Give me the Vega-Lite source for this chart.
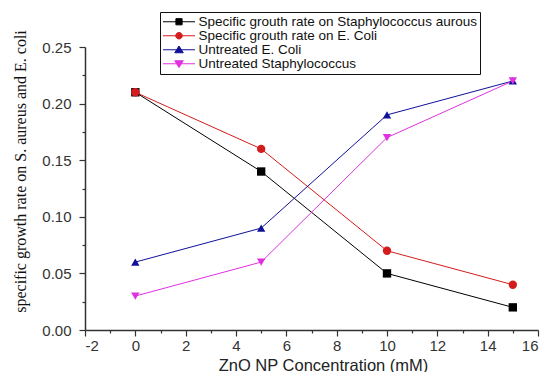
{
  "$schema": "https://vega.github.io/schema/vega-lite/v6.json",
  "width": 453,
  "height": 283,
  "autosize": {"type": "none"},
  "padding": {"left": 85, "top": 47, "right": 20, "bottom": 42},
  "background": "white",
  "config": {
    "view": {"stroke": null},
    "font": "Liberation Sans",
    "axis": {
      "domainColor": "#333333",
      "domainWidth": 1.5,
      "tickColor": "#333333",
      "tickWidth": 1.2,
      "grid": false,
      "labelFont": "Liberation Sans",
      "labelFontSize": 15,
      "labelColor": "#333333"
    }
  },
  "data": {
    "values": [
      {"series": "Specific grouth rate on Staphylococcus aurous", "conc": 0, "rate": 0.21},
      {"series": "Specific grouth rate on Staphylococcus aurous", "conc": 5, "rate": 0.14},
      {"series": "Specific grouth rate on Staphylococcus aurous", "conc": 10, "rate": 0.05},
      {"series": "Specific grouth rate on Staphylococcus aurous", "conc": 15, "rate": 0.02},
      {"series": "Specific grouth rate on E. Coli", "conc": 0, "rate": 0.21},
      {"series": "Specific grouth rate on E. Coli", "conc": 5, "rate": 0.16},
      {"series": "Specific grouth rate on E. Coli", "conc": 10, "rate": 0.07},
      {"series": "Specific grouth rate on E. Coli", "conc": 15, "rate": 0.04},
      {"series": "Untreated E. Coli", "conc": 0, "rate": 0.06},
      {"series": "Untreated E. Coli", "conc": 5, "rate": 0.09},
      {"series": "Untreated E. Coli", "conc": 10, "rate": 0.19},
      {"series": "Untreated E. Coli", "conc": 15, "rate": 0.22},
      {"series": "Untreated Staphylococcus", "conc": 0, "rate": 0.03},
      {"series": "Untreated Staphylococcus", "conc": 5, "rate": 0.06},
      {"series": "Untreated Staphylococcus", "conc": 10, "rate": 0.17},
      {"series": "Untreated Staphylococcus", "conc": 15, "rate": 0.22}
    ]
  },
  "layer": [
    {
      "mark": {"type": "line", "strokeWidth": 1},
      "encoding": {
        "x": {
          "field": "conc", "type": "quantitative",
          "scale": {"domain": [-2, 16], "nice": false, "zero": false},
          "axis": {
            "values": [-2, 0, 2, 4, 6, 8, 10, 12, 14, 16],
            "labelExpr": "'' + datum.value",
            "tickSize": 6, "labelPadding": 2,
            "title": "ZnO NP Concentration (mM)",
            "titleFont": "Liberation Sans", "titleFontSize": 16.5, "titleFontWeight": "normal",
            "titleColor": "#222222", "titlePadding": 4, "titleX": 238
          }
        },
        "y": {
          "field": "rate", "type": "quantitative",
          "scale": {"domain": [0, 0.25], "nice": false},
          "axis": {
            "values": [0, 0.05, 0.1, 0.15, 0.2, 0.25],
            "format": ".2f",
            "tickSize": 6, "labelPadding": 8,
            "title": "specific growth rate on S. aureus and E. coli",
            "titleFont": "Liberation Serif", "titleFontSize": 16, "titleFontWeight": "normal",
            "titleColor": "#111111", "titleX": -65, "titleY": 124, "titleAngle": -90,
            "titleAlign": "center", "titleBaseline": "middle"
          }
        },
        "color": {
          "field": "series", "type": "nominal",
          "scale": {
            "domain": [
              "Specific grouth rate on Staphylococcus aurous",
              "Specific grouth rate on E. Coli",
              "Untreated E. Coli",
              "Untreated Staphylococcus"
            ],
            "range": ["#000000", "#d41c1c", "#10109a", "#e030e0"]
          },
          "legend": {
            "orient": "none",
            "legendX": 75,
            "legendY": -35,
            "title": null,
            "strokeColor": "#111111",
            "fillColor": "white",
            "padding": 3,
            "labelFont": "Liberation Sans",
            "labelFontSize": 13.5,
            "labelColor": "#111111",
            "labelLimit": 500,
            "symbolSize": 100,
            "labelOffset": 22,
            "rowPadding": -1,
            "encode": {
              "symbols": {
                "update": {
                  "shape": {"signal": "datum.value === 'Specific grouth rate on Staphylococcus aurous' ? 'M-3.2,0H3.2M-0.62,-0.62H0.62V0.62H-0.62Z' : datum.value === 'Specific grouth rate on E. Coli' ? 'M-3.2,0H3.2M-0.65,0A0.65,0.65,0,1,0,0.65,0A0.65,0.65,0,1,0,-0.65,0Z' : datum.value === 'Untreated E. Coli' ? 'M-3.2,0H3.2M0,-0.75L0.85,0.6L-0.85,0.6Z' : 'M-3.2,0H3.2M0,0.75L0.85,-0.6L-0.85,-0.6Z'"},
                  "size": {"value": 100},
                  "x": {"value": 16},
                  "fill": {"scale": "color", "field": "value"},
                  "stroke": {"scale": "color", "field": "value"},
                  "strokeWidth": {"value": 1},
                  "opacity": {"value": 1},
                  "fillOpacity": {"value": 1},
                  "strokeOpacity": {"value": 1}
                }
              }
            }
          }
        }
      }
    },
    {
      "mark": {"type": "point", "filled": true, "opacity": 1},
      "encoding": {
        "x": {
          "field": "conc", "type": "quantitative",
          "axis": {
            "values": [-1, 1, 3, 5, 7, 9, 11, 13, 15],
            "labels": false, "domain": false, "tickSize": 3, "title": null, "orient": "bottom"
          }
        },
        "y": {
          "field": "rate", "type": "quantitative",
          "axis": {
            "values": [0.025, 0.075, 0.125, 0.175, 0.225],
            "labels": false, "domain": false, "tickSize": 3, "title": null, "orient": "left"
          }
        },
        "color": {"field": "series", "type": "nominal"},
        "shape": {
          "field": "series", "type": "nominal",
          "scale": {"range": ["circle", "square", "triangle-up", "triangle-down"]},
          "legend": null
        },
        "size": {"value": 70}
      }
    }
  ],
  "resolve": {"axis": {"x": "independent", "y": "independent"}}
}
